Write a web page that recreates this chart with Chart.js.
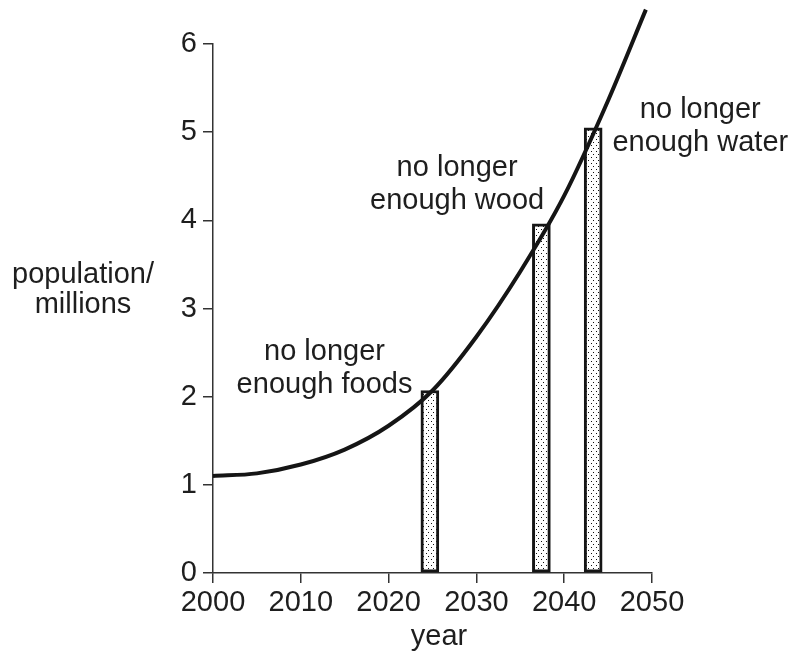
<!DOCTYPE html>
<html>
<head>
<meta charset="utf-8">
<script src="https://cdn.jsdelivr.net/npm/chart.js@4.4.0/dist/chart.umd.min.js"></script>
<style>
    html, body { margin: 0; padding: 0; background: #fff; }
    #wrap { width: 791px; height: 660px; }
</style>
</head>
<body>
<div id="wrap"><canvas id="grafico-populacao"></canvas></div>
<script>
// valores
const curveYears = [2000, 2005, 2010, 2015, 2020, 2025, 2030, 2035, 2040, 2045, 2049.3];
const curveValues = [1.10, 1.13, 1.23, 1.40, 1.67, 2.07, 2.68, 3.42, 4.28, 5.36, 6.39];
const barYears = [2024.7, 2037.4, 2043.3];
const barValues = [2.07, 3.96, 5.05];
const barLabels = [
    ['no longer', 'enough foods'],
    ['no longer', 'enough wood'],
    ['no longer', 'enough water']
];
const yearTicks = [2000, 2010, 2020, 2030, 2040, 2050];
const populationTicks = [0, 1, 2, 3, 4, 5, 6];

const fonte = '"Liberation Sans", Arial, sans-serif';
const corTexto = '#1e1e1e';
const corEixo = '#333';

// onde fica o texto de cada barra (em unidades dos eixos)
const labelPos = [
    { x: 2012.7, y: 2.42 },
    { x: 2027.8, y: 4.50 },
    { x: 2055.5, y: 5.16 }
];

function dotPattern() {
    const c = document.createElement('canvas');
    c.width = 5;
    c.height = 6;
    const g = c.getContext('2d');
    g.fillStyle = '#fff';
    g.fillRect(0, 0, 5, 6);
    g.fillStyle = '#111';
    g.fillRect(1, 1, 1, 1);
    g.fillRect(3, 4, 1, 1);
    return g.createPattern(c, 'repeat');
}

const titlesPlugin = {
    id: 'titles',
    afterDraw(chart) {
        const c = chart.ctx;
        const xs = chart.scales.x;
        const ys = chart.scales.y;
        c.save();
        c.font = '29px ' + fonte;
        c.fillStyle = corTexto;
        c.textAlign = 'center';
        c.textBaseline = 'alphabetic';
        c.fillText('population/', 83, 283);
        c.fillText('millions', 83, 313);
        c.fillText('year', 439, 645);
        barLabels.forEach(function (lines, i) {
            const px = xs.getPixelForValue(labelPos[i].x);
            const py = ys.getPixelForValue(labelPos[i].y);
            lines.forEach(function (t, j) {
                c.fillText(t, px, py + j * 33);
            });
        });
        c.restore();
    }
};

const ctx = document.getElementById('grafico-populacao');

new Chart(ctx, {
    type: 'bar',
    data: {
        datasets: [
            {
                type: 'line',
                data: curveYears.map((x, i) => ({ x: x, y: curveValues[i] })),
                borderColor: '#151515',
                borderWidth: 4,
                pointRadius: 0,
                fill: false,
                cubicInterpolationMode: 'monotone',
                clip: false,
                order: 0
            },
            {
                type: 'bar',
                data: barYears.map((x, i) => ({ x: x, y: barValues[i] })),
                backgroundColor: dotPattern(),
                borderColor: '#151515',
                borderWidth: 3,
                borderSkipped: false,
                barThickness: 18,
                order: 1
            }
        ]
    },
    options: {
        responsive: true,
        maintainAspectRatio: false,
        animation: false,
        layout: {
            padding: { top: 44, right: 139, left: 0, bottom: 0 }
        },
        scales: {
            x: {
                type: 'linear',
                min: 2000,
                max: 2050,
                offset: false,
                afterBuildTicks: s => { s.ticks = yearTicks.map(v => ({ value: v })); },
                afterFit: s => { s.height = 87; },
                grid: {
                    offset: false,
                    drawOnChartArea: false,
                    tickLength: 10,
                    tickColor: corEixo,
                    lineWidth: 1.5
                },
                border: { display: true, color: corEixo, width: 1.5 },
                ticks: {
                    color: corTexto,
                    font: { family: fonte, size: 29 },
                    padding: 3,
                    maxRotation: 0,
                    callback: v => String(v)
                }
            },
            y: {
                min: 0,
                max: 6,
                afterBuildTicks: s => { s.ticks = populationTicks.map(v => ({ value: v })); },
                afterFit: s => { s.width = 213; },
                grid: {
                    drawOnChartArea: false,
                    tickLength: 10,
                    tickColor: corEixo,
                    lineWidth: 1.5
                },
                border: { display: true, color: corEixo, width: 1.5 },
                ticks: {
                    color: corTexto,
                    font: { family: fonte, size: 29 },
                    padding: 6,
                    callback: v => String(v)
                }
            }
        },
        plugins: {
            legend: { display: false },
            tooltip: { enabled: false }
        }
    },
    plugins: [titlesPlugin]
});
</script>
</body>
</html>
